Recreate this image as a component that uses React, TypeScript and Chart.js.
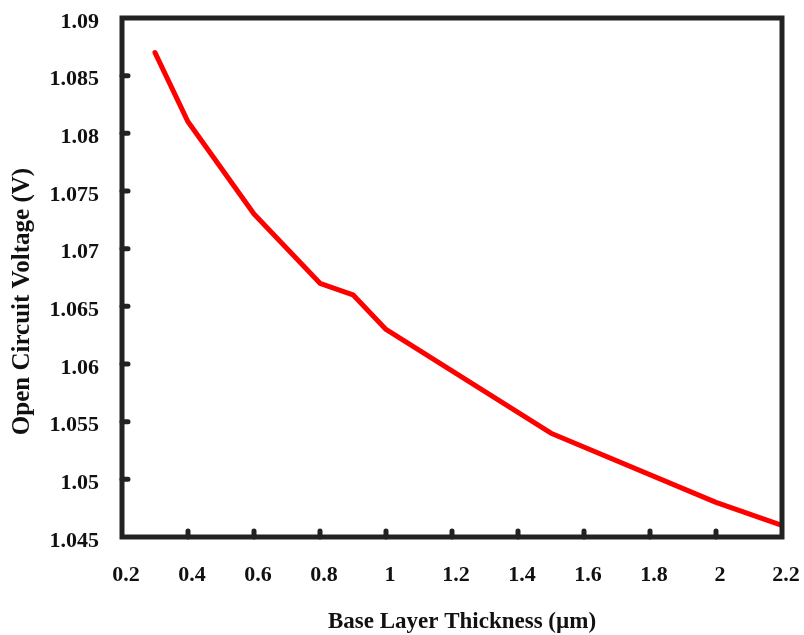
import React, { useEffect, useRef } from "react";
import { Chart, registerables } from "chart.js";

Chart.register(...registerables);

const thickness = [0.3, 0.4, 0.6, 0.8, 0.9, 1.0, 1.5, 2.0, 2.2];
const voltage = [1.087, 1.081, 1.073, 1.067, 1.066, 1.063, 1.054, 1.048, 1.046];
const xTickValues = [0.2, 0.4, 0.6, 0.8, 1.0, 1.2, 1.4, 1.6, 1.8, 2.0, 2.2];
const yTickValues = [1.045, 1.05, 1.055, 1.06, 1.065, 1.07, 1.075, 1.08, 1.085, 1.09];
const xTitle = "Base Layer Thickness (µm)";
const yTitle = "Open Circuit Voltage (V)";

const FONT = "'Liberation Serif', 'Times New Roman', serif";
const AXIS_COLOR = "#222222";

const framePlugin = {
  id: "framePlugin",
  afterDatasetsDraw(chart: any) {
    const { ctx, chartArea } = chart;
    const { left, right, top, bottom } = chartArea;
    const xs = chart.scales.x;
    const ys = chart.scales.y;
    ctx.save();
    // inward tick marks
    ctx.strokeStyle = AXIS_COLOR;
    ctx.lineWidth = 5;
    ctx.lineCap = "round";
    ctx.beginPath();
    xs.ticks.forEach((t: any) => {
      const px = xs.getPixelForValue(t.value);
      if (Math.abs(px - left) < 2 || Math.abs(px - right) < 2) return;
      ctx.moveTo(px, bottom);
      ctx.lineTo(px, bottom - 6);
    });
    ys.ticks.forEach((t: any) => {
      const py = ys.getPixelForValue(t.value);
      if (Math.abs(py - top) < 2 || Math.abs(py - bottom) < 2) return;
      ctx.moveTo(left, py);
      ctx.lineTo(left + 6, py);
    });
    ctx.stroke();
    // frame
    ctx.lineCap = "butt";
    ctx.lineJoin = "miter";
    ctx.strokeRect(left, top, right - left, bottom - top);
    // titles
    ctx.fillStyle = "#111111";
    ctx.font = `bold 23px ${FONT}`;
    ctx.textAlign = "center";
    ctx.textBaseline = "middle";
    ctx.fillText(xTitle, (left + right) / 2 + 10, 622);
    ctx.translate(23, (top + bottom) / 2 + 24);
    ctx.rotate(-Math.PI / 2);
    ctx.font = `bold 25px ${FONT}`;
    ctx.fillText(yTitle, 0, 0);
    ctx.restore();
  },
};

export default function App() {
  const ref = useRef<HTMLCanvasElement | null>(null);
  useEffect(() => {
    document.body.style.margin = "0";
    const canvas = ref.current;
    if (!canvas) return;
    const chart = new Chart(canvas, {
      type: "line",
      data: {
        datasets: [
          {
            data: thickness.map((x, i) => ({ x, y: voltage[i] })),
            borderColor: "#ff0000",
            borderWidth: 5,
            pointRadius: 0,
            tension: 0,
            borderCapStyle: "round",
            borderJoinStyle: "round",
            fill: false,
          },
        ],
      },
      options: {
        animation: false,
        responsive: false,
        maintainAspectRatio: false,
        layout: { autoPadding: false, padding: { top: 18, right: 22, left: 0, bottom: 0 } },
        plugins: { legend: { display: false }, tooltip: { enabled: false } },
        scales: {
          x: {
            type: "linear",
            min: 0.2,
            max: 2.2,
            grid: { display: false, drawTicks: false },
            border: { display: false },
            afterBuildTicks: (scale: any) => {
              scale.ticks = xTickValues.map((v) => ({ value: v }));
            },
            afterFit: (scale: any) => {
              scale.height = 98;
              scale.paddingLeft = 0;
              scale.paddingRight = 0;
            },
            ticks: {
              autoSkip: false,
              maxRotation: 0,
              padding: 25,
              labelOffset: 4,
              color: "#111111",
              font: { family: FONT, size: 22, weight: "bold" },
              callback: (v: any) => String(Number(Number(v).toFixed(1))),
            },
          },
          y: {
            type: "linear",
            min: 1.045,
            max: 1.09,
            grid: { display: false, drawTicks: false },
            border: { display: false },
            afterBuildTicks: (scale: any) => {
              scale.ticks = yTickValues.map((v) => ({ value: v }));
            },
            afterFit: (scale: any) => {
              scale.width = 122;
              scale.paddingTop = 0;
              scale.paddingBottom = 0;
            },
            ticks: {
              autoSkip: false,
              padding: 23,
              labelOffset: 4,
              color: "#111111",
              font: { family: FONT, size: 22, weight: "bold" },
              callback: (v: any) => String(Number(Number(v).toFixed(3))),
            },
          },
        },
      },
      plugins: [framePlugin],
    } as any);
    return () => chart.destroy();
  }, []);
  return (
    <div style={{ width: 804, height: 635 }}>
      <canvas ref={ref} width={804} height={635} style={{ display: "block" }} />
    </div>
  );
}
